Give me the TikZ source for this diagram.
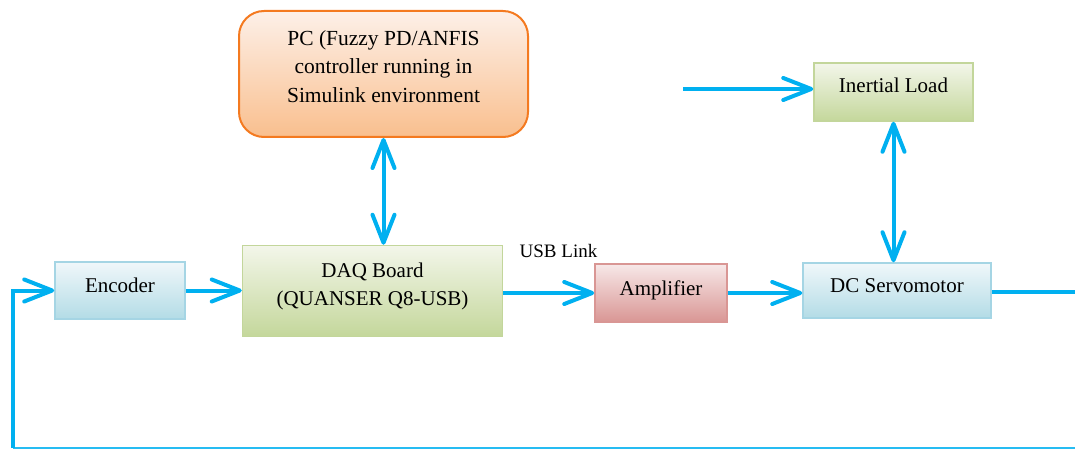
\documentclass[tikz,border=0pt]{standalone}
\usepackage{fontspec}
\setmainfont{Liberation Serif}
\usetikzlibrary{arrows.meta}
\definecolor{linkc}{HTML}{00B0F0}
\definecolor{pcborder}{HTML}{F47A20}
\definecolor{pctop}{HTML}{FDF0E8}
\definecolor{pcbot}{HTML}{F9BF8E}
\definecolor{grborder}{HTML}{C3D69B}
\definecolor{grtop}{HTML}{F3F6EA}
\definecolor{grbot}{HTML}{C4D79B}
\definecolor{blborder}{HTML}{A5D5E4}
\definecolor{bltop}{HTML}{F0F7FA}
\definecolor{blbot}{HTML}{B3DCE6}
\definecolor{rdborder}{HTML}{D99694}
\definecolor{rdtop}{HTML}{F7E8E8}
\definecolor{rdbot}{HTML}{D99694}
\tikzset{
  blk/.style={rectangle, line width=1.5pt, align=center, inner sep=0pt,
    font=\fontsize{21}{28}\selectfont, text height=14pt, text depth=10pt},
  grblk/.style={blk, draw=grborder, top color=grtop, bottom color=grbot},
  blblk/.style={blk, draw=blborder, top color=bltop, bottom color=blbot},
  rdblk/.style={blk, draw=rdborder, top color=rdtop, bottom color=rdbot},
  pcblk/.style={blk, draw=pcborder, line width=2pt, rounded corners=25pt,
    top color=pctop, bottom color=pcbot, font=\fontsize{21.5}{28.5}\selectfont},
  barb/.tip={Straight Barb[length=28pt,width=22pt,line cap=round,round]},
  conn/.style={draw=linkc, line width=4pt, -barb},
  dconn/.style={draw=linkc, line width=4pt, barb-barb},
  plainlink/.style={draw=linkc, line width=4pt},
  fbline/.style={draw=linkc!85, line width=1.6pt},
}
\begin{document}
\begin{tikzpicture}[x=1pt,y=-1pt]
\useasboundingbox (0,0) rectangle (1075,449);
\node[pcblk, minimum width=289pt, minimum height=126pt, text height=71pt, text depth=14pt] (pc) at (383.5,74)
  {PC (Fuzzy PD/ANFIS\\controller running in\\Simulink environment};
\node[grblk, minimum width=260pt, minimum height=91pt, text height=42pt, text depth=14pt] (daq) at (372.5,291)
  {DAQ Board\\(QUANSER Q8-USB)};
\node[blblk, minimum width=130pt, minimum height=57pt] (enc) at (120,290.5) {Encoder};
\node[rdblk, minimum width=132pt, minimum height=58pt] (amp) at (661,293) {Amplifier};
\node[blblk, minimum width=188pt, minimum height=55pt] (dc) at (897,290.5) {DC Servomotor};
\node[grblk, minimum width=159pt, minimum height=58pt, text depth=12pt] (il) at (893.5,92) {Inertial Load};
\node[font=\fontsize{19}{22}\selectfont, inner sep=0pt] (usb) at (558.5,251) {USB Link};

\coordinate (inIn) at (683,89);
\coordinate (outR) at (1075,292);
\coordinate (fbR) at (1075,448);
\coordinate (fbL) at (12.5,448);

\draw[dconn] (pc.south) -- (pc.south |- daq.north);
\draw[dconn] (il.south) -- (il.south |- dc.north);
\draw[conn] (inIn) -- (inIn -| il.west);
\draw[conn] (enc.east) -- (enc.east -| daq.west);
\draw[conn] (amp.west -| daq.east) -- (amp.west);
\draw[conn] (amp.east) -- (amp.east -| dc.west);
\draw[plainlink] (dc.east |- outR) -- (outR);
\draw[fbline] (fbR) -- (fbL);
\draw[conn] (fbL) -- (fbL |- enc.west) -- (enc.west);
\end{tikzpicture}
\end{document}
